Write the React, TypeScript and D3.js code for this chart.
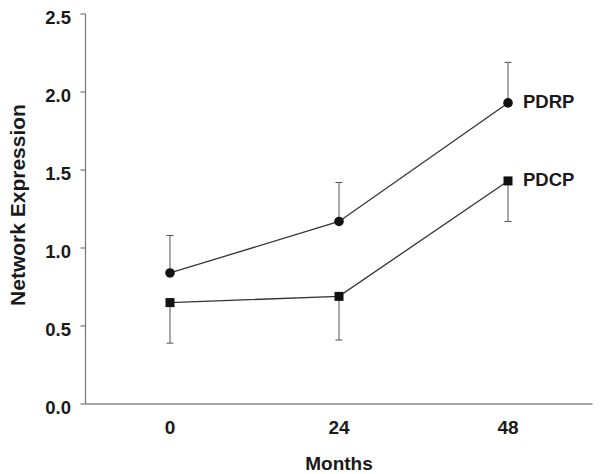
import React from "react";
import * as d3 from "d3";

const months = [0, 24, 48];
const pdrpMean = [0.84, 1.17, 1.93];
const pdrpUpper = [1.08, 1.42, 2.19];
const pdcpMean = [0.65, 0.69, 1.43];
const pdcpLower = [0.39, 0.41, 1.17];
const yTicks = [0, 0.5, 1.0, 1.5, 2.0, 2.5];
const seriesLabels = ["PDRP", "PDCP"];

export default function App() {
  const W = 600, H = 474;
  const x = d3.scaleLinear().domain([-12, 60]).range([85.5, 592.5]);
  const y = d3.scaleLinear().domain([0, 2.5]).range([404, 14]);
  const line = d3
    .line<[number, number]>()
    .x((d) => x(d[0]))
    .y((d) => y(d[1]));
  const font = "'Liberation Sans', Arial, sans-serif";
  const pdrpPts = months.map((m, i) => [m, pdrpMean[i]] as [number, number]);
  const pdcpPts = months.map((m, i) => [m, pdcpMean[i]] as [number, number]);
  const cap = 3.5;
  const txt = "#1a1a1a";
  return (
    <svg
      width={W}
      height={H}
      style={{ position: "absolute", left: 0, top: 0, background: "#fff" }}
      fontFamily={font}
    >
      <rect width={W} height={H} fill="#fff" />
      {/* axes */}
      <line x1={x(-12)} x2={x(-12)} y1={y(2.5)} y2={y(0)} stroke="#777" strokeWidth={1.2} />
      <line x1={x(-12)} x2={x(60)} y1={y(0)} y2={y(0)} stroke="#888" strokeWidth={1.5} />
      {yTicks.map((t) => (
        <g key={t}>
          <line x1={x(-12) - 5} x2={x(-12)} y1={y(t)} y2={y(t)} stroke="#777" strokeWidth={1.2} />
          <text
            x={71}
            y={y(t) + 3}
            textAnchor="end"
            dominantBaseline="central"
            fontSize={18.5}
            fontWeight="bold"
            fill={txt}
          >
            {t.toFixed(1)}
          </text>
        </g>
      ))}
      {months.map((m) => (
        <text
          key={m}
          x={x(m)}
          y={427}
          textAnchor="middle"
          dominantBaseline="central"
          fontSize={19}
          fontWeight="bold"
          fill={txt}
        >
          {m}
        </text>
      ))}
      <text x={x(24)} y={463} textAnchor="middle" dominantBaseline="central" fontSize={19} fontWeight="bold" fill={txt}>
        Months
      </text>
      <text
        transform={`translate(17,205) rotate(-90)`}
        textAnchor="middle"
        dominantBaseline="central"
        fontSize={21}
        fontWeight="bold"
        fill={txt}
      >
        Network Expression
      </text>
      {/* error bars */}
      {months.map((m, i) => (
        <g key={"e1" + m} stroke="#555" strokeWidth={1}>
          <line x1={x(m)} x2={x(m)} y1={y(pdrpMean[i])} y2={y(pdrpUpper[i])} />
          <line x1={x(m) - cap} x2={x(m) + cap} y1={y(pdrpUpper[i])} y2={y(pdrpUpper[i])} />
          <line x1={x(m)} x2={x(m)} y1={y(pdcpMean[i])} y2={y(pdcpLower[i])} />
          <line x1={x(m) - cap} x2={x(m) + cap} y1={y(pdcpLower[i])} y2={y(pdcpLower[i])} />
        </g>
      ))}
      {/* lines */}
      <path d={line(pdrpPts) || ""} fill="none" stroke="#333" strokeWidth={1.3} />
      <path d={line(pdcpPts) || ""} fill="none" stroke="#333" strokeWidth={1.3} />
      {pdrpPts.map((p, i) => (
        <circle key={"c" + i} cx={x(p[0])} cy={y(p[1])} r={4.8} fill="#111" />
      ))}
      {pdcpPts.map((p, i) => (
        <rect key={"s" + i} x={x(p[0]) - 4.5} y={y(p[1]) - 4.5} width={9} height={9} fill="#111" />
      ))}
      <text x={523} y={101} dominantBaseline="central" fontSize={18.5} fontWeight="bold" fill={txt}>
        {seriesLabels[0]}
      </text>
      <text x={523} y={179} dominantBaseline="central" fontSize={18.5} fontWeight="bold" fill={txt}>
        {seriesLabels[1]}
      </text>
    </svg>
  );
}
